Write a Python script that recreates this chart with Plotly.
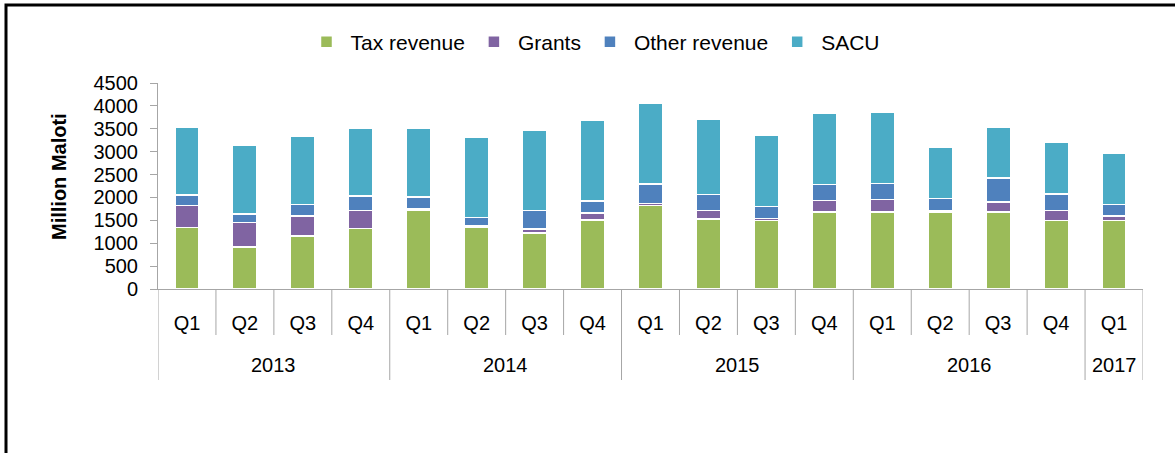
import plotly.graph_objects as go

years = ["2013"] * 4 + ["2014"] * 4 + ["2015"] * 4 + ["2016"] * 4 + ["2017"]
quarters = ["Q1", "Q2", "Q3", "Q4"] * 4 + ["Q1"]
tax_revenue = [1340, 920, 1160, 1320, 1710, 1340, 1220, 1510, 1820, 1530, 1500, 1680, 1680, 1680, 1680, 1500, 1500]
grants = [480, 530, 430, 400, 40, 40, 90, 150, 50, 180, 40, 250, 270, 40, 220, 220, 90]
other_revenue = [230, 190, 260, 310, 260, 180, 400, 260, 420, 350, 260, 350, 350, 260, 530, 360, 260]
sacu = [1490, 1510, 1490, 1490, 1510, 1750, 1760, 1760, 1760, 1640, 1560, 1560, 1560, 1110, 1110, 1120, 1110]

series = [
    ("Tax revenue", tax_revenue, "#9BBB59"),
    ("Grants", grants, "#8064A2"),
    ("Other revenue", other_revenue, "#4F81BD"),
    ("SACU", sacu, "#4BACC6"),
]

cats = [f"{y} {q}" for y, q in zip(years, quarters)]
FONT = "Liberation Sans, Arial, sans-serif"

fig = go.Figure()
for name, vals, color in series:
    fig.add_trace(go.Bar(
        x=cats, y=vals, name=name,
        marker=dict(color=color, line=dict(color="white", width=1.5)),
        width=0.42,
    ))

W, H = 1175, 453
L, R, T, B = 158, 32, 83, 164
pw, ph = W - L - R, H - T - B

def px_to_paper_y(py):
    return (H - B - py) / ph

def px_to_paper_x(px):
    return (px - L) / pw

shapes = []
grey = "#A6A6A6"
n = len(cats)
for i in range(n + 1):
    boundary = i - 0.5
    is_year_edge = i == 0 or i == n or years[i] != years[i - 1]
    y_end = 380 if is_year_edge else 335
    shapes.append(dict(type="line", xref="x", yref="paper",
                       x0=boundary, x1=boundary, y0=0, y1=px_to_paper_y(y_end),
                       line=dict(color=grey, width=1)))

# frame (top and left edges visible inside the picture)
shapes.append(dict(type="rect", xref="paper", yref="paper", layer="above",
                   x0=px_to_paper_x(6), x1=px_to_paper_x(1190),
                   y0=px_to_paper_y(5), y1=px_to_paper_y(470),
                   line=dict(color="black", width=3), fillcolor="rgba(0,0,0,0)"))

annotations = []
unique_years = []
for y in years:
    if y not in unique_years:
        unique_years.append(y)
for y in unique_years:
    idx = [i for i, yy in enumerate(years) if yy == y]
    annotations.append(dict(x=sum(idx) / len(idx), xref="x", y=px_to_paper_y(365), yref="paper",
                            text=y, showarrow=False, yanchor="middle",
                            font=dict(family=FONT, size=20, color="black")))
annotations.append(dict(x=px_to_paper_x(46), xref="paper", y=px_to_paper_y(177), yref="paper",
                        text="<b>Million Maloti</b>", textangle=-90, showarrow=False,
                        font=dict(family=FONT, size=20, color="black")))

fig.update_layout(
    width=W, height=H,
    margin=dict(l=L, r=R, t=T, b=B, autoexpand=False),
    barmode="stack",
    plot_bgcolor="white", paper_bgcolor="white",
    font=dict(family=FONT, size=20, color="black"),
    shapes=shapes,
    annotations=annotations,
    showlegend=True,
    legend=dict(orientation="h", x=px_to_paper_x(594), xanchor="center",
                y=px_to_paper_y(42), yanchor="middle", itemwidth=38,
                font=dict(family=FONT, size=21, color="black"),
                traceorder="normal", bgcolor="rgba(0,0,0,0)"),
    xaxis=dict(type="category", tickvals=cats, ticktext=quarters, ticks="",
               showline=True, linecolor=grey, linewidth=1, showgrid=False,
               ticklabelstandoff=16, tickfont=dict(family=FONT, size=20),
               range=[-0.5, n - 0.5], fixedrange=True),
    yaxis=dict(range=[0, 4500], tickvals=list(range(0, 4501, 500)), ticks="outside",
               ticklen=7, tickcolor=grey, showline=True, linecolor=grey, linewidth=1,
               showgrid=False, zeroline=False, ticklabelstandoff=8,
               tickfont=dict(family=FONT, size=20)),
)

fig.write_html("out.html", config={"displayModeBar": False},
               post_script="document.body.style.margin='0';")
